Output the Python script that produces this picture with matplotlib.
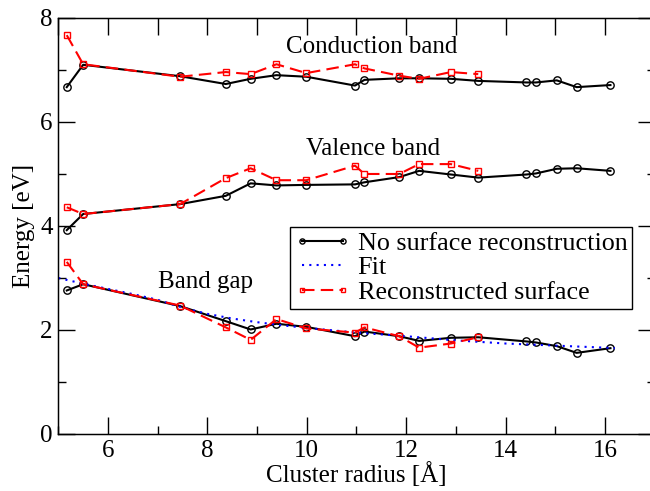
import matplotlib
matplotlib.use("Agg")
import matplotlib.pyplot as plt

plt.rcParams['font.family'] = ['Liberation Serif', 'DejaVu Serif']

# cluster radii (Angstrom)
radius = [5.17, 5.50, 7.45, 8.37, 8.87, 9.39, 9.99, 10.97, 11.16, 11.86,
          12.26, 12.90, 13.45, 14.42, 14.61, 15.03, 15.43, 16.11]
radius_rec = radius[:13]

# no surface reconstruction
cond = [6.67, 7.10, 6.88, 6.73, 6.83, 6.90, 6.87, 6.70, 6.81, 6.84,
        6.84, 6.83, 6.79, 6.76, 6.76, 6.80, 6.67, 6.71]
val = [3.92, 4.23, 4.42, 4.58, 4.82, 4.78, 4.79, 4.80, 4.84, 4.94,
       5.06, 4.99, 4.93, 4.99, 5.01, 5.10, 5.11, 5.06]
gap = [2.76, 2.88, 2.46, 2.17, 2.01, 2.12, 2.06, 1.88, 1.97, 1.88,
       1.79, 1.85, 1.86, 1.78, 1.76, 1.69, 1.56, 1.65]

# reconstructed surface
cond_rec = [7.67, 7.11, 6.87, 6.96, 6.92, 7.11, 6.94, 7.11, 7.03, 6.89,
            6.83, 6.96, 6.92]
val_rec = [4.36, 4.23, 4.42, 4.92, 5.11, 4.88, 4.88, 5.16, 5.00, 5.00,
           5.19, 5.19, 5.06]
gap_rec = [3.31, 2.88, 2.47, 2.05, 1.81, 2.21, 2.03, 1.95, 2.05, 1.88,
           1.66, 1.74, 1.86]

# fit of the band gap
fit_r = [5.0, 5.5, 6.0, 6.5, 7.0, 7.5, 8.0, 8.5, 9.0, 9.5, 10.0, 11.0,
         12.0, 13.0, 14.0, 15.0, 16.0, 16.2]
fit_gap = [3.00, 2.89, 2.79, 2.69, 2.58, 2.43, 2.31, 2.22, 2.15, 2.09, 2.04,
           1.95, 1.88, 1.80, 1.74, 1.70, 1.66, 1.65]

fig = plt.figure(figsize=(6.5, 4.91), dpi=100)
ax = fig.add_axes([0.0897, 0.1161, 0.9175, 0.8473])

blk = dict(color='black', lw=1.5, marker='o', ms=5.3, mfc='none',
           mec='black', mew=1.0)
red = dict(color='#ff0000', lw=1.5, ls=(0, (6, 3)), marker='s', ms=5.0,
           mfc='none', mec='#ff0000', mew=1.0)

ax.plot(radius, cond, **blk, label='No surface reconstruction')
ax.plot(radius, val, **blk)
ax.plot(radius, gap, **blk)
ax.plot(fit_r, fit_gap, color='#0000ff', lw=1.5, ls=(0, (1, 2.5)), label='Fit')
ax.plot(radius_rec, cond_rec, **red, label='Reconstructed surface')
ax.plot(radius_rec, val_rec, **red)
ax.plot(radius_rec, gap_rec, **red)

ax.set_xlim(5, 17)
ax.set_ylim(0, 8)
ax.set_xticks(range(6, 17, 2))
ax.set_xticks(range(5, 18, 2), minor=True)
ax.set_yticks(range(0, 9, 2))
ax.set_yticks(range(1, 9, 2), minor=True)
ax.tick_params(which='both', direction='in', right=True, top=False,
               labelsize=18, width=1.0, pad=4)
ax.tick_params(which='major', length=12)
ax.tick_params(which='minor', length=6)
for s in ax.spines.values():
    s.set_linewidth(1.0)
ax.spines['right'].set_visible(False)

top = ax.twiny()
top.set_xlim(5, 17)
top.set_xticks(range(5, 18))
top.tick_params(direction='in', length=12, width=1.0, labeltop=False)
top.spines['right'].set_visible(False)

ax.set_xlabel('Cluster radius [Å]', fontsize=18, labelpad=0)
ax.set_ylabel('Energy [eV]', fontsize=18, labelpad=4)

ax.text(11.3, 7.44, 'Conduction band', fontsize=18, ha='center', va='center')
ax.text(11.33, 5.48, 'Valence band', fontsize=18, ha='center', va='center')
ax.text(7.97, 2.93, 'Band gap', fontsize=18, ha='center', va='center')

leg = ax.legend(loc='upper right', bbox_to_anchor=(0.962, 0.498),
                borderaxespad=0, fontsize=18.8, frameon=True, fancybox=False,
                edgecolor='black', framealpha=1, numpoints=2, markerscale=0.7,
                handlelength=2.15, handletextpad=0.27, labelspacing=0.05,
                borderpad=0.18)
leg.get_frame().set_linewidth(1.0)

fig.savefig('out.png', dpi=100)
